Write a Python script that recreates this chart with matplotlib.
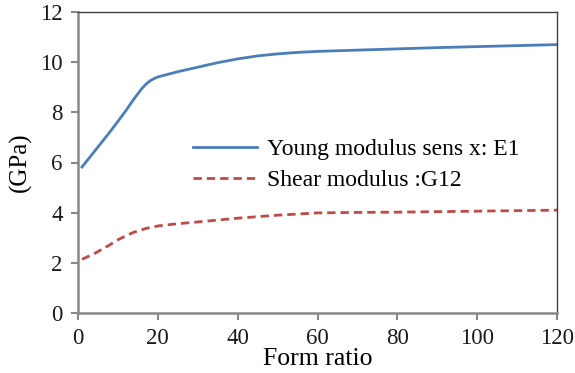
import matplotlib
matplotlib.use("Agg")
import matplotlib.pyplot as plt

form_ratio = [1, 3, 5, 8, 10, 12, 14, 16, 17, 18, 19, 20, 25, 30, 35, 40, 45, 50, 55, 60, 70, 80, 90, 100, 110, 120]
young_e1 = [5.82, 6.22, 6.62, 7.22, 7.64, 8.07, 8.53, 8.95, 9.12, 9.25, 9.34, 9.41, 9.62, 9.8, 9.98, 10.13, 10.25, 10.33, 10.39, 10.43, 10.48, 10.53, 10.58, 10.62, 10.66, 10.7]
form_ratio_g = [1, 4, 6, 8, 10, 12, 14, 17, 20, 25, 30, 40, 50, 60, 70, 80, 90, 100, 110, 120]
shear_g12 = [2.14, 2.36, 2.54, 2.72, 2.92, 3.08, 3.22, 3.37, 3.47, 3.56, 3.63, 3.78, 3.9, 3.99, 4.01, 4.02, 4.04, 4.06, 4.08, 4.1]

plt.rcParams['font.family'] = ['Liberation Serif', 'DejaVu Serif']

fig = plt.figure(figsize=(5.75, 3.73), dpi=100)
ax = fig.add_axes([78/575, 1-313/373, (557-78)/575, (313-12)/373])

ax.plot(form_ratio, young_e1, color='#4a7ebb', lw=2.0, label='Young modulus sens x: E1')
ax.plot(form_ratio_g, shear_g12, color='#be4b48', lw=2.0, ls=(0, (3, 1.8)), label='Shear modulus :G12')

ax.set_xlim(0, 120)
ax.set_ylim(0, 12)
ax.set_xticks(range(0, 121, 20))
ax.set_yticks(range(0, 13, 2))

for s in ['left', 'bottom']:
    ax.spines[s].set_color('#888888')
    ax.spines[s].set_linewidth(1.8)
for s in ['top', 'right']:
    ax.spines[s].set_color('#404040')
    ax.spines[s].set_linewidth(1.0)

ax.tick_params(axis='both', direction='out', length=5, width=1.5, color='#888888',
               labelsize=16.5, labelcolor='#1a1a1a', pad=6)

ax.set_xlabel('Form ratio', fontsize=18.5, labelpad=-1)
ax.set_ylabel('(GPa)', fontsize=18, labelpad=6)

leg = ax.legend(loc='upper left', bbox_to_anchor=(0.24, 0.58), frameon=False,
                fontsize=17, handlelength=2.7, handletextpad=0.45, labelspacing=0.4,
                borderaxespad=0, borderpad=0)

fig.savefig('out.png', dpi=100)
